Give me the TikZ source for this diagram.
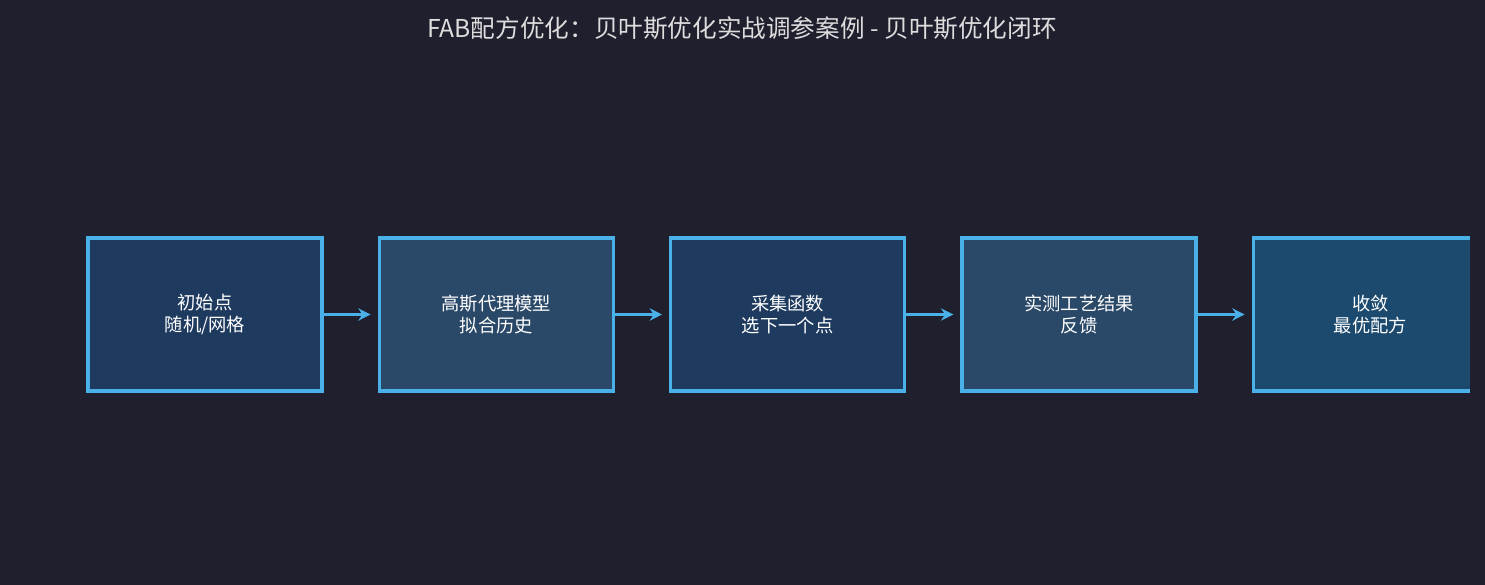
\documentclass[tikz,border=0pt]{standalone}
\usepackage{fontspec}
\setmainfont{Noto Sans CJK SC}
\usetikzlibrary{positioning,arrows.meta}
\definecolor{bgdark}{HTML}{1F1F2E}
\definecolor{boxa}{HTML}{1E3A5F}
\definecolor{boxb}{HTML}{2A4868}
\definecolor{boxc}{HTML}{1C4A6E}
\definecolor{edgeblue}{HTML}{4AB0E8}
\definecolor{titlegray}{HTML}{DDDDDD}
\begin{document}
\begin{tikzpicture}[x=0.01cm, y=-0.01cm,
    stage/.style={rectangle, draw=edgeblue, line width=0.9pt, minimum width=2.34cm, minimum height=1.53cm, align=center, text=white, font=\fontsize{5.2pt}{6.2pt}\selectfont},
    arrow/.style={-{Stealth[length=3.5pt,width=3.5pt]}, edgeblue, line width=1pt, shorten >=2pt}
]
    \useasboundingbox[fill=bgdark] (0,0) rectangle (1485,585);
    % Title
    \node[text=titlegray, font=\fontsize{7pt}{8pt}\selectfont] (title) at (742,28) {FAB配方优化：贝叶斯优化实战调参案例 - 贝叶斯优化闭环};
    % Stages
    \node[stage, fill=boxa] (init) at (205,314.5) {初始点\\随机/网格};
    \node[stage, fill=boxb, right=0.54cm of init] (gp) {高斯代理模型\\拟合历史};
    \node[stage, fill=boxa, right=0.54cm of gp] (acq) {采集函数\\选下一个点};
    \node[stage, fill=boxb, right=0.54cm of acq] (meas) {实测工艺结果\\反馈};
    \node[stage, fill=boxc, right=0.54cm of meas] (conv) {收敛\\最优配方};
    % Arrows
    \draw[arrow] (init) -- (gp);
    \draw[arrow] (gp) -- (acq);
    \draw[arrow] (acq) -- (meas);
    \draw[arrow] (meas) -- (conv);
    \fill[bgdark] (1470,230) rectangle (1490,400);
\end{tikzpicture}
\end{document}
